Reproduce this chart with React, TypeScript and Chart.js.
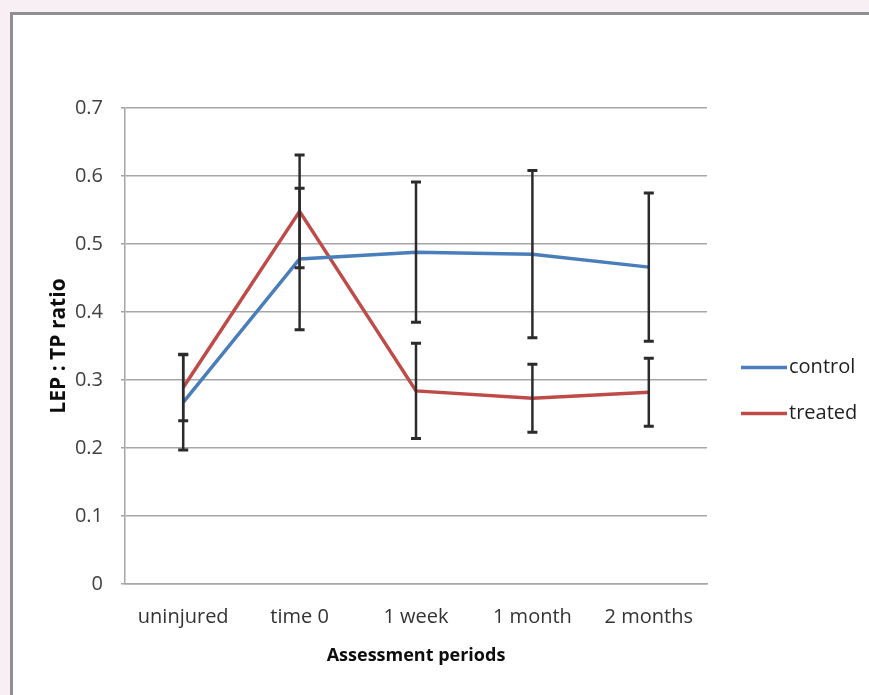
import React, { useEffect, useRef } from "react";
import { Chart, registerables } from "chart.js";

Chart.register(...registerables);

const categories = ["uninjured", "time 0", "1 week", "1 month", "2 months"];
const controlValues = [0.267, 0.478, 0.488, 0.485, 0.466];
const controlErrors = [0.07, 0.104, 0.103, 0.123, 0.109];
const treatedValues = [0.289, 0.548, 0.284, 0.273, 0.282];
const treatedErrors = [0.049, 0.083, 0.07, 0.05, 0.05];
const yTicks = [0, 0.1, 0.2, 0.3, 0.4, 0.5, 0.6, 0.7];

const BLUE = "#4a7ebb";
const RED = "#be4b48";
const FONT = "'Open Sans', 'DejaVu Sans', sans-serif";

const errorBarPlugin = {
  id: "errorBars",
  afterDatasetsDraw(chart: any) {
    const { ctx } = chart;
    const y = chart.scales.y;
    ctx.save();
    ctx.strokeStyle = "#2b2b2b";
    chart.data.datasets.forEach((ds: any, i: number) => {
      const meta = chart.getDatasetMeta(i);
      const errs: number[] = ds.errors || [];
      meta.data.forEach((pt: any, j: number) => {
        const v = ds.data[j];
        const e = errs[j];
        const x = pt.x;
        const yTop = y.getPixelForValue(v + e);
        const yBot = y.getPixelForValue(v - e);
        ctx.lineWidth = 2.5;
        ctx.beginPath();
        ctx.moveTo(x, yTop);
        ctx.lineTo(x, yBot);
        ctx.stroke();
        ctx.lineWidth = 3;
        ctx.beginPath();
        ctx.moveTo(x - 5, yTop);
        ctx.lineTo(x + 5, yTop);
        ctx.moveTo(x - 5, yBot);
        ctx.lineTo(x + 5, yBot);
        ctx.stroke();
      });
    });
    ctx.restore();
  },
};

const legendPlugin = {
  id: "sideLegend",
  afterDraw(chart: any) {
    const { ctx, chartArea } = chart;
    const x0 = chartArea.right + 34;
    const y0 = chartArea.top + (chartArea.bottom - chartArea.top) * 0.545;
    ctx.save();
    chart.data.datasets.forEach((ds: any, i: number) => {
      const yy = y0 + i * 46;
      ctx.strokeStyle = ds.borderColor;
      ctx.lineWidth = 3.5;
      ctx.beginPath();
      ctx.moveTo(x0, yy);
      ctx.lineTo(x0 + 46, yy);
      ctx.stroke();
      ctx.fillStyle = "#1f1f1f";
      ctx.font = `20px ${FONT}`;
      ctx.textBaseline = "middle";
      ctx.textAlign = "left";
      ctx.fillText(ds.label, x0 + 48, yy);
    });
    ctx.restore();
  },
};

export default function App() {
  const canvasRef = useRef<HTMLCanvasElement | null>(null);

  useEffect(() => {
    document.body.style.margin = "0";
    const canvas = canvasRef.current;
    if (!canvas) return;
    const chart = new Chart(canvas, {
      type: "line",
      data: {
        labels: categories,
        datasets: [
          {
            label: "control",
            data: controlValues,
            errors: controlErrors,
            borderColor: BLUE,
            backgroundColor: BLUE,
            borderWidth: 3.5,
            pointRadius: 0,
            tension: 0,
          } as any,
          {
            label: "treated",
            data: treatedValues,
            errors: treatedErrors,
            borderColor: RED,
            backgroundColor: RED,
            borderWidth: 3.5,
            pointRadius: 0,
            tension: 0,
          } as any,
        ],
      },
      options: {
        responsive: false,
        animation: false,
        devicePixelRatio: 1,
        layout: { padding: { top: 108, right: 162, left: 0, bottom: 0 } },
        plugins: {
          legend: { display: false },
          tooltip: { enabled: false },
        },
        scales: {
          x: {
            offset: true,
            grid: { display: false, drawTicks: false },
            border: { display: true, color: "#a6a6a6", width: 1.5 },
            ticks: {
              color: "#333333",
              font: { family: FONT, size: 20 },
              padding: 21,
            },
            title: {
              display: true,
              text: "Assessment periods",
              color: "#0d0d0d",
              font: { family: FONT, size: 18, weight: "bold" },
              padding: { top: 0, bottom: 28 },
            },
            afterFit: (scale: any) => {
              scale.height = 111;
            },
          },
          y: {
            min: 0,
            max: 0.7,
            afterBuildTicks: (scale: any) => {
              scale.ticks = yTicks.map((v) => ({ value: v }));
            },
            grid: { color: "#a6a6a6", lineWidth: 1.5, tickLength: 4, drawTicks: true },
            border: { display: true, color: "#a6a6a6", width: 1.5 },
            ticks: {
              color: "#404040",
              font: { family: FONT, size: 20 },
              padding: 18,
              callback: (v: any) => String(Math.round(Number(v) * 10) / 10),
            },
            title: {
              display: true,
              text: "LEP : TP ratio",
              color: "#0d0d0d",
              font: { family: FONT, size: 21, weight: "bold" },
              padding: { top: 46, bottom: 0 },
            },
            afterFit: (scale: any) => {
              scale.width = 125;
            },
          },
        },
      } as any,
      plugins: [errorBarPlugin, legendPlugin],
    });
    return () => chart.destroy();
  }, []);

  return (
    <div
      style={{
        position: "relative",
        width: 869,
        height: 695,
        background: "#f8eff4",
        overflow: "hidden",
      }}
    >
      <div
        style={{
          position: "absolute",
          left: 10,
          top: 12,
          width: 900,
          height: 720,
          background: "#ffffff",
          border: "3px solid #8f8f8f",
          boxSizing: "border-box",
        }}
      />
      <canvas
        ref={canvasRef}
        width={869}
        height={695}
        style={{ position: "absolute", left: 0, top: 0, width: 869, height: 695 }}
      />
    </div>
  );
}
